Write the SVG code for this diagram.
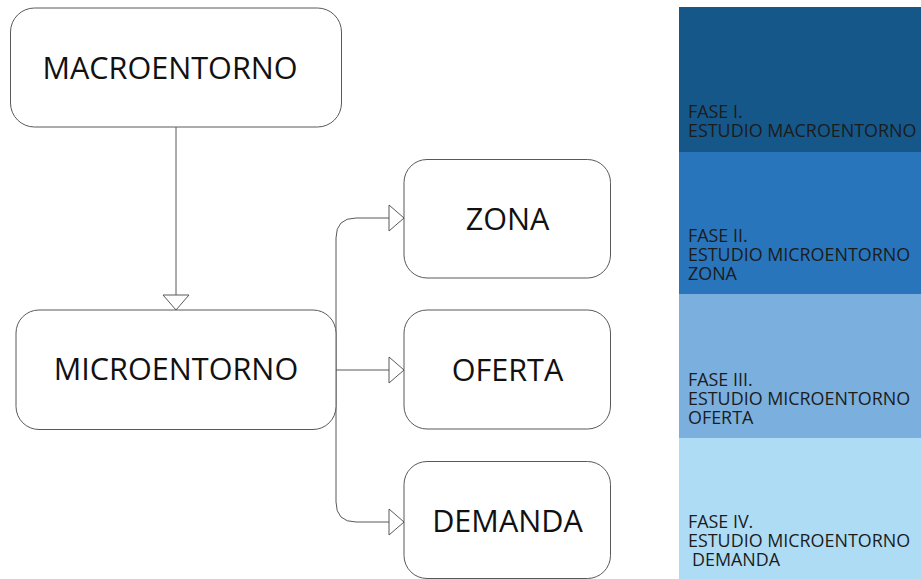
<svg xmlns="http://www.w3.org/2000/svg" width="921" height="579" viewBox="0 0 921 579">
  <style>
    .box { fill: #ffffff; stroke: #595959; stroke-width: 1; }
    .lbl { font-family: "Open Sans", "Liberation Sans", sans-serif; font-size: 30.6px; fill: #111111; text-anchor: middle; }
    .wire { fill: none; stroke: #595959; stroke-width: 1; }
    .phase { font-family: "Open Sans", "Liberation Sans", sans-serif; font-size: 17.9px; fill: #1c1c1c; }
  </style>
  <defs>
    <marker id="open-tri" markerUnits="userSpaceOnUse" markerWidth="17" markerHeight="28" viewBox="-1 -1 17 28" refX="15" refY="13" orient="auto">
      <path d="M0,0 L15,13 L0,26 Z" fill="#ffffff" stroke="#595959" stroke-width="1"/>
    </marker>
  </defs>

  <rect width="921" height="579" fill="#ffffff"/>

  <!-- phase bands -->
  <g id="phases">
    <rect x="679" y="7" width="242" height="145" fill="#155789"/>
    <rect x="679" y="152" width="242" height="142" fill="#2875bb"/>
    <rect x="679" y="294" width="242" height="144" fill="#7bafde"/>
    <rect x="679" y="438" width="242" height="141" fill="#aedcf5"/>
    <text class="phase"><tspan x="688" y="118">FASE I.</tspan><tspan x="688" y="137">ESTUDIO MACROENTORNO</tspan></text>
    <text class="phase"><tspan x="688" y="242">FASE II.</tspan><tspan x="688" y="261">ESTUDIO MICROENTORNO</tspan><tspan x="688" y="280">ZONA</tspan></text>
    <text class="phase"><tspan x="688" y="386">FASE III.</tspan><tspan x="688" y="405">ESTUDIO MICROENTORNO</tspan><tspan x="688" y="424">OFERTA</tspan></text>
    <text class="phase"><tspan x="688" y="528">FASE IV.</tspan><tspan x="688" y="547">ESTUDIO MICROENTORNO</tspan><tspan x="692" y="566">DEMANDA</tspan></text>
  </g>

  <!-- connectors -->
  <g id="connectors">
    <path class="wire" d="M176,127 V310" marker-end="url(#open-tri)"/>
    <path class="wire" d="M336,370 H404" marker-end="url(#open-tri)"/>
    <path class="wire" d="M356,218 Q336,218 336,238 V370" />
    <path class="wire" d="M356,218 H404" marker-end="url(#open-tri)"/>
    <path class="wire" d="M336,370 V502 Q336,522 356,522 H404" marker-end="url(#open-tri)"/>
  </g>

  <g id="macroentorno">
    <rect class="box" x="10.5" y="8" width="331" height="119" rx="24"/>
    <text class="lbl" x="170" y="79">MACROENTORNO</text>
  </g>

  <g id="microentorno">
    <rect class="box" x="16" y="310" width="320" height="119.5" rx="23"/>
    <text class="lbl" x="176" y="380">MICROENTORNO</text>
  </g>

  <g id="zona">
    <rect class="box" x="404" y="159.5" width="206.5" height="118.5" rx="23"/>
    <text class="lbl" x="507.5" y="230">ZONA</text>
  </g>

  <g id="oferta">
    <rect class="box" x="404" y="310" width="206.5" height="119" rx="23"/>
    <text class="lbl" x="507.5" y="381">OFERTA</text>
  </g>

  <g id="demanda">
    <rect class="box" x="404" y="461.5" width="206.5" height="117" rx="23"/>
    <text class="lbl" x="507.5" y="532">DEMANDA</text>
  </g>
</svg>
